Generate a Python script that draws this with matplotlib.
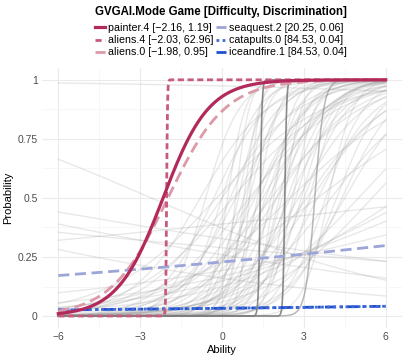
import numpy as np
import matplotlib
matplotlib.use("Agg")
import matplotlib.pyplot as plt

plt.rcParams['font.family'] = ['Liberation Sans', 'DejaVu Sans']

# highlighted items: name, difficulty, discrimination
names = ["painter.4", "aliens.4", "aliens.0", "seaquest.2", "catapults.0", "iceandfire.1"]
difficulty = [-2.16, -2.03, -1.98, 20.25, 84.53, 84.53]
discrimination = [1.19, 62.96, 0.95, 0.06, 0.04, 0.04]
colors = ["#B22A5B", "#C65B7C", "#DC99A8", "#9CA5D8", "#3F6AD8", "#1F4FD0"]
styles = ["-", (0, (2.2, 1.3)), (0, (4, 2)), (0, (4, 2)), (0, (1, 1.2)), (0, (4, 1.5, 1, 1.5))]

# other items (difficulty, discrimination)
bg_difficulty = [-0.6, -0.3, -0.2, 0.0, 0.0, 0.2, 0.3, 0.5, 0.5, 0.6,
                 0.8, 0.8, 1.0, 1.0, 1.1, 1.2, 1.3, 1.5, 1.6, 1.7,
                 1.8, 1.9, 2.0, 2.0, 2.2, 2.3, 2.5, 2.5, 2.6, 2.7,
                 2.8, 2.9, 3.0, 3.2, 3.3, 3.5, 3.5, 3.8, 3.9, 4.0,
                 4.2, 4.4, 4.5, 5.0, 5.5, 6.5, 8.0, 0.4, 1.0, -0.8,
                 11.0, 7.0, 9.0, -9.0, -10.5, -18.0, -13.8, -2.6, 33.0, 1.4,
                 2.1, 3.1, 0.9, 1.8, 2.4]
bg_discrimination = [1.6, 1.0, 0.5, 1.5, 0.7, 3.0, 1.1, 0.9, 4.0, 2.2,
                     1.4, 3.5, 0.6, 1.8, 0.75, 1.0, 2.5, 0.8, 1.3, 0.95,
                     2.0, 2.8, 0.7, 1.1, 1.6, 3.2, 1.0, 0.45, 2.4, 1.5,
                     0.8, 1.6, 1.2, 1.8, 0.7, 0.9, 0.35, 1.4, 2.2, 0.6,
                     1.2, 1.0, 0.8, 0.5, 0.5, 0.3, 0.2, 0.55, 5.0, 0.8,
                     0.13, 0.25, 0.05, -0.08, -0.1, -0.05, -0.12, -0.2, -0.11, 1.2,
                     1.9, 0.65, 2.6, 0.6, 1.3]
step_difficulty = [1.4, 2.3]
step_discrimination = [30.0, 30.0]
dark_difficulty = [3.4]
dark_discrimination = [6.0]

ability = np.linspace(-6, 6, 600)


def icc(b, a):
    return 1.0 / (1.0 + np.exp(-a * (ability - b)))


fig = plt.figure(figsize=(4.07, 3.56), dpi=100)
ax = fig.add_axes([0.103, 0.079, 0.885, 0.730])

for b, a in zip(bg_difficulty, bg_discrimination):
    ax.plot(ability, icc(b, a), color="#9A9A9A", alpha=0.22, lw=1.0, zorder=1)
for b, a in zip(step_difficulty, step_discrimination):
    ax.plot(ability, icc(b, a), color="#6E6E6E", alpha=0.8, lw=1.2, zorder=2)
for b, a in zip(dark_difficulty, dark_discrimination):
    ax.plot(ability, icc(b, a), color="#8A8A8A", alpha=0.6, lw=1.1, zorder=2)

order = [4, 5, 3, 2, 1, 0]
lines = {}
for i in order:
    label = "%s [%s, %s]" % (names[i], f"{difficulty[i]:.2f}".replace("-", "\u2212"),
                             f"{discrimination[i]:.2f}")
    ln, = ax.plot(ability, icc(difficulty[i], discrimination[i]), color=colors[i],
                  ls=styles[i], lw=2.3 if i == 0 else 2.0, label=label, zorder=3 + (5 - i))
    lines[i] = ln

ax.set_xlim(-6.6, 6.6)
ax.set_ylim(-0.05, 1.05)
ax.set_xticks([-6, -3, 0, 3, 6])
ax.set_yticks([0, 0.25, 0.5, 0.75, 1])
ax.set_yticklabels(["0", "0.25", "0.5", "0.75", "1"])
ax.set_xticks([-4.5, -1.5, 1.5, 4.5], minor=True)
ax.set_yticks([0.125, 0.375, 0.625, 0.875], minor=True)
ax.grid(True, which="major", color="#EBEBEB", lw=0.8)
ax.grid(True, which="minor", color="#F4F4F4", lw=0.5)
ax.set_axisbelow(True)
for s in ax.spines.values():
    s.set_visible(False)
ax.tick_params(which="both", length=0, labelsize=7.5, labelcolor="#4D4D4D", pad=3)
ax.set_xlabel("Ability", fontsize=8, labelpad=2)
ax.set_ylabel("Probability", fontsize=8, labelpad=3)

handles = [lines[i] for i in range(6)]
fig.text(0.543, 0.965, "GVGAI.Mode Game [Difficulty, Discrimination]", ha="center",
         va="center", fontsize=8.3, fontweight="bold")
leg = fig.legend(handles=handles, labels=[h.get_label() for h in handles], ncol=2,
                 loc="upper center", bbox_to_anchor=(0.543, 0.95), frameon=False,
                 fontsize=7.7, handlelength=0.9, handletextpad=0.3, columnspacing=0.3,
                 labelspacing=0.2, borderpad=0)

fig.savefig("out.png", dpi=100)
